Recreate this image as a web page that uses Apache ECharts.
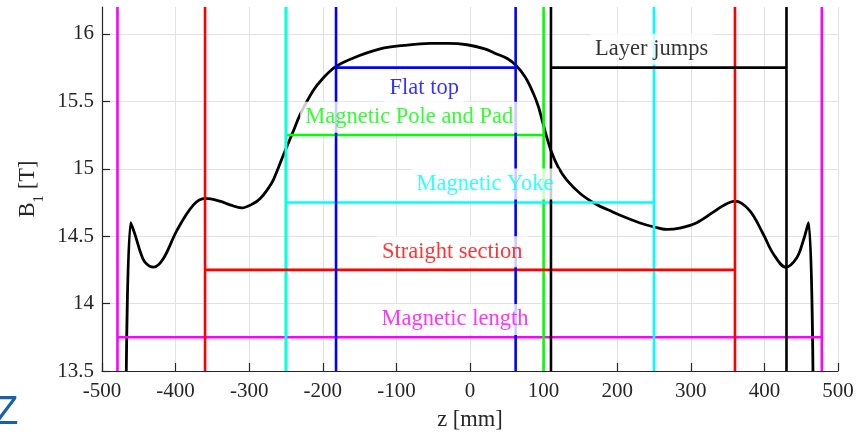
<!DOCTYPE html>
<html>
<head>
<meta charset="utf-8">
<script src="https://cdn.jsdelivr.net/npm/echarts@6/dist/echarts.min.js"></script>
<style>
html,body{margin:0;padding:0;background:#fff;}
#chart{width:866px;height:433px;}
</style>
</head>
<body>
<div id="chart"></div>
<script>
// ---- Data ----
const zValues = [-467, -461, -455, -448, -442, -430, -417, -398, -376, -360, -340, -325, -310, -295, -285, -276, -267, -253, -240, -231, -213, -200, -182, -150, -122, -90, -54, -30, -4, 20, 37, 50, 62, 75, 86, 93, 99, 104, 111, 120, 131, 150, 172, 190, 204, 230, 249, 267, 285, 308, 331, 345, 360, 380, 398, 412, 429, 444, 453, 460, 466];
const bValues = [13.5, 14.60, 14.51, 14.385, 14.31, 14.27, 14.33, 14.545, 14.73, 14.78, 14.76, 14.73, 14.71, 14.74, 14.78, 14.84, 14.92, 15.11, 15.28, 15.40, 15.58, 15.67, 15.76, 15.84, 15.89, 15.915, 15.93, 15.93, 15.92, 15.89, 15.85, 15.82, 15.77, 15.68, 15.56, 15.46, 15.34, 15.24, 15.12, 15.01, 14.92, 14.815, 14.735, 14.69, 14.655, 14.60, 14.57, 14.55, 14.56, 14.60, 14.68, 14.73, 14.76, 14.69, 14.52, 14.37, 14.27, 14.34, 14.47, 14.60, 13.5];

const regionNames = ['Magnetic length', 'Magnetic Pole and Pad', 'Magnetic Yoke', 'Straight section', 'Flat top', 'Layer jumps'];
const regionStart = [-479, -250, -250, -360, -182, 110];
const regionEnd = [478, 100, 250, 360, 62, 430];
const regionLevel = [13.75, 15.25, 14.75, 14.25, 15.75, 15.75];
const labelZ = [-20.4, -82.6, 20.4, -24.2, -62.2, 246.8];
const labelB = [13.894, 15.393, 14.899, 14.396, 15.608, 15.897];

const yTickValues = [13.5, 14, 14.5, 15, 15.5, 16];
const xRange = [-500, 500];
const yRange = [13.5, 16.2];

// ---- Styles ----
const regionColors = ['#ff00ff', '#00ff00', '#00ffff', '#ff0000', '#0000ff', '#000000'];
const serif = 'Liberation Serif, Times New Roman, serif';
const axisColor = '#262626';
const gridColor = '#e2e2e2';

const chart = echarts.init(document.getElementById('chart'), null, {renderer: 'canvas'});

const series = [];
series.push({
  type: 'line',
  data: zValues.map((z, i) => [z, bValues[i]]),
  showSymbol: false,
  smooth: 0.35,
  lineStyle: {color: '#000', width: 2.8},
  z: 2,
  silent: true,
  clip: true
});

regionNames.forEach((name, i) => {
  const c = regionColors[i];
  const ls = {color: c, width: 2.6};
  series.push({type: 'line', data: [[regionStart[i], yRange[0]], [regionStart[i], yRange[1]]], showSymbol: false, lineStyle: ls, z: 3 + i, silent: true});
  series.push({type: 'line', data: [[regionEnd[i], yRange[0]], [regionEnd[i], yRange[1]]], showSymbol: false, lineStyle: ls, z: 3 + i, silent: true});
  series.push({type: 'line', data: [[regionStart[i], regionLevel[i]], [regionEnd[i], regionLevel[i]]], showSymbol: false, lineStyle: ls, z: 3 + i, silent: true});
});

series.push({
  type: 'scatter',
  symbolSize: 0,
  z: 20,
  silent: true,
  data: regionNames.map((name, i) => ({
    value: [labelZ[i], labelB[i]],
    name: name,
    label: {
      show: true,
      position: 'inside',
      offset: [0, 1.5],
      formatter: name,
      color: regionColors[i],
      fontFamily: serif,
      fontSize: 22.5,
      backgroundColor: '#ffffff',
      padding: [4, 5, 4, 5]
    }
  }))
});

const option = {
  backgroundColor: '#ffffff',
  animation: false,
  grid: {left: 102, right: 28, top: 7, bottom: 62, containLabel: false, outerBoundsMode: 'none'},
  xAxis: {
    type: 'value',
    min: xRange[0], max: xRange[1], interval: 100,
    name: 'z [mm]',
    nameLocation: 'middle',
    nameGap: 38,
    nameTextStyle: {fontFamily: serif, fontSize: 22.5, color: axisColor},
    axisLine: {show: true, onZero: false, lineStyle: {color: axisColor, width: 1.2}},
    axisTick: {show: true, inside: true, length: 8, lineStyle: {color: axisColor, width: 1.2}},
    axisLabel: {fontFamily: serif, fontSize: 21, color: axisColor, margin: 10},
    splitLine: {show: true, lineStyle: {color: gridColor, width: 1}}
  },
  yAxis: {
    type: 'value',
    min: yRange[0], max: yRange[1], interval: 0.5,
    name: '{b|B}{s|1}{b| [T]}',
    nameLocation: 'middle',
    nameRotate: 90,
    nameGap: 47,
    nameTextStyle: {
      color: axisColor,
      rich: {
        b: {fontFamily: serif, fontSize: 22.5, color: axisColor},
        s: {fontFamily: serif, fontSize: 15, color: axisColor, padding: [22, 0, 0, 0]}
      }
    },
    axisLine: {show: true, onZero: false, lineStyle: {color: axisColor, width: 1.2}},
    axisTick: {show: true, inside: true, length: 8, lineStyle: {color: axisColor, width: 1.2}, customValues: yTickValues},
    axisLabel: {fontFamily: serif, fontSize: 21, color: axisColor, margin: 8, customValues: yTickValues},
    splitLine: {show: true, lineStyle: {color: gridColor, width: 1}}
  },
  graphic: [{
    type: 'text',
    left: -6,
    top: 393,
    style: {text: 'Z', fontFamily: 'Liberation Sans, Arial, sans-serif', fontSize: 40, fill: '#1a5fa8'}
  }],
  series: series
};
chart.setOption(option);
</script>
</body>
</html>
